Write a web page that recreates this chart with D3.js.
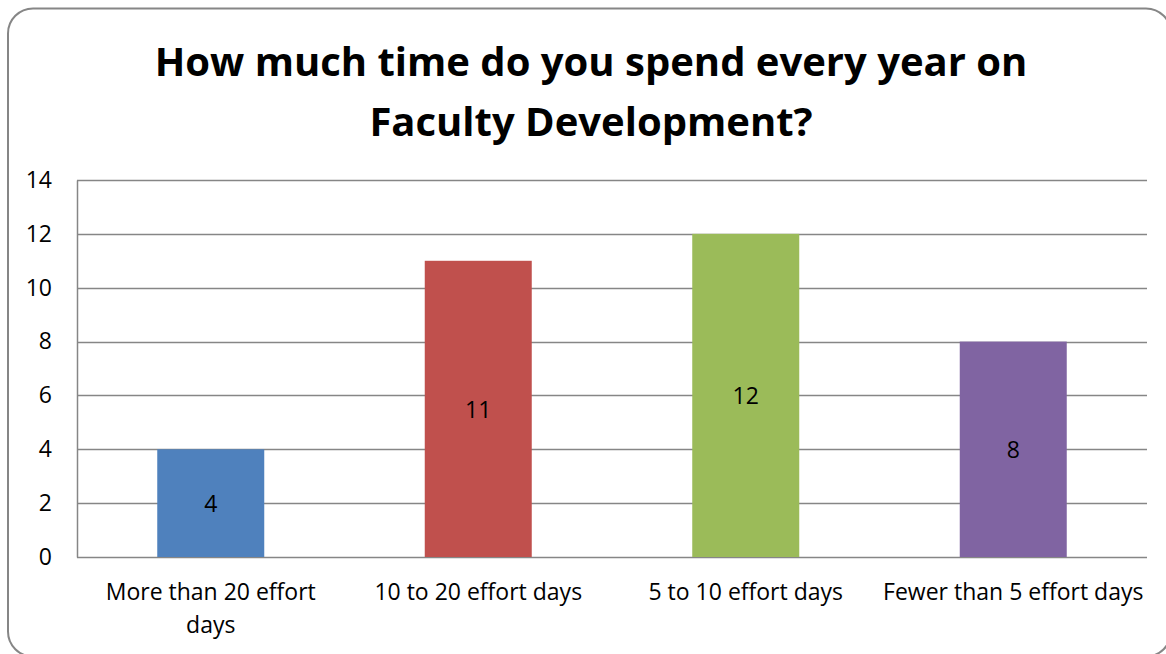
<!DOCTYPE html>
<html>
<head>
<meta charset="utf-8">
<title>Faculty Development</title>
<script src="https://d3js.org/d3.v7.min.js"></script>
<style>
  html, body { margin: 0; padding: 0; background: #fff; }
  svg { display: block; }
</style>
</head>
<body>
<div id="chart"></div>
<script>
  // data
  const categories = ['More than 20 effort days', '10 to 20 effort days', '5 to 10 effort days', 'Fewer than 5 effort days'];
  const values = [4, 11, 12, 8];
  const colors = ['#4F81BD', '#C0504D', '#9BBB59', '#8064A2'];
  const yTicks = [0, 2, 4, 6, 8, 10, 12, 14];
  const titleLines = ['How much time do you spend every year on', 'Faculty Development?'];

  const W = 1166, H = 654;
  const font = '"Open Sans", "Noto Sans", sans-serif';
  const labelSize = '23px';

  const svg = d3.select('#chart')
    .append('svg')
    .attr('width', W)
    .attr('height', H);

  // outer frame (right and bottom edges run just past the picture)
  svg.append('rect')
    .attr('x', 8).attr('y', 8.5)
    .attr('width', 1163).attr('height', 648)
    .attr('rx', 25).attr('ry', 25)
    .attr('fill', '#fff')
    .attr('stroke', '#868686')
    .attr('stroke-width', 2);

  // title
  svg.append('g').selectAll('text')
    .data(titleLines)
    .enter()
    .append('text')
    .attr('x', 591)
    .attr('y', (d, i) => 76 + i * 60)
    .attr('text-anchor', 'middle')
    .attr('font-family', font)
    .attr('font-weight', 'bold')
    .attr('font-size', '40px')
    .attr('fill', '#000')
    .text(d => d);

  const plot = { left: 77, right: 1147, top: 180, bottom: 557 };

  const x = d3.scaleBand()
    .domain(categories)
    .range([plot.left, plot.right])
    .paddingInner(0.6)
    .paddingOuter(0.3);

  const y = d3.scaleLinear()
    .domain([0, 14])
    .range([plot.bottom, plot.top]);

  // gridlines
  svg.append('g').selectAll('line')
    .data(yTicks)
    .enter()
    .append('line')
    .attr('x1', plot.left)
    .attr('x2', plot.right)
    .attr('y1', d => Math.round(y(d)) + 0.5)
    .attr('y2', d => Math.round(y(d)) + 0.5)
    .attr('stroke', '#868686')
    .attr('stroke-width', 1.5);

  // y axis
  const yAxis = svg.append('g')
    .attr('transform', `translate(${plot.left},0)`)
    .call(d3.axisLeft(y).tickValues(yTicks).tickSize(0).tickPadding(25));
  yAxis.select('.domain').attr('stroke', '#868686').attr('stroke-width', 1.5);
  yAxis.selectAll('text')
    .attr('font-family', font)
    .attr('font-size', labelSize)
    .attr('fill', '#000');

  // bars
  svg.append('g').selectAll('rect')
    .data(values)
    .enter()
    .append('rect')
    .attr('x', (d, i) => x(categories[i]))
    .attr('y', d => y(d))
    .attr('width', x.bandwidth())
    .attr('height', d => y(0) - y(d))
    .attr('fill', (d, i) => colors[i]);

  // value labels
  svg.append('g').selectAll('text')
    .data(values)
    .enter()
    .append('text')
    .attr('x', (d, i) => x(categories[i]) + x.bandwidth() / 2)
    .attr('y', d => (y(d) + y(0)) / 2 + 9)
    .attr('text-anchor', 'middle')
    .attr('font-family', font)
    .attr('font-size', labelSize)
    .attr('fill', '#000')
    .text(d => d);

  // x axis labels (wrapped like the original)
  const xLabels = [['More than 20 effort', 'days'], ['10 to 20 effort days'], ['5 to 10 effort days'], ['Fewer than 5 effort days']];
  const xl = svg.append('g').selectAll('text')
    .data(categories)
    .enter()
    .append('text')
    .attr('text-anchor', 'middle')
    .attr('font-family', font)
    .attr('font-size', labelSize)
    .attr('fill', '#000');
  xl.each(function(d, i) {
    const cx = x(d) + x.bandwidth() / 2;
    d3.select(this).selectAll('tspan')
      .data(xLabels[i])
      .enter()
      .append('tspan')
      .attr('x', cx)
      .attr('y', (t, j) => 600 + j * 33)
      .text(t => t);
  });
</script>
</body>
</html>
